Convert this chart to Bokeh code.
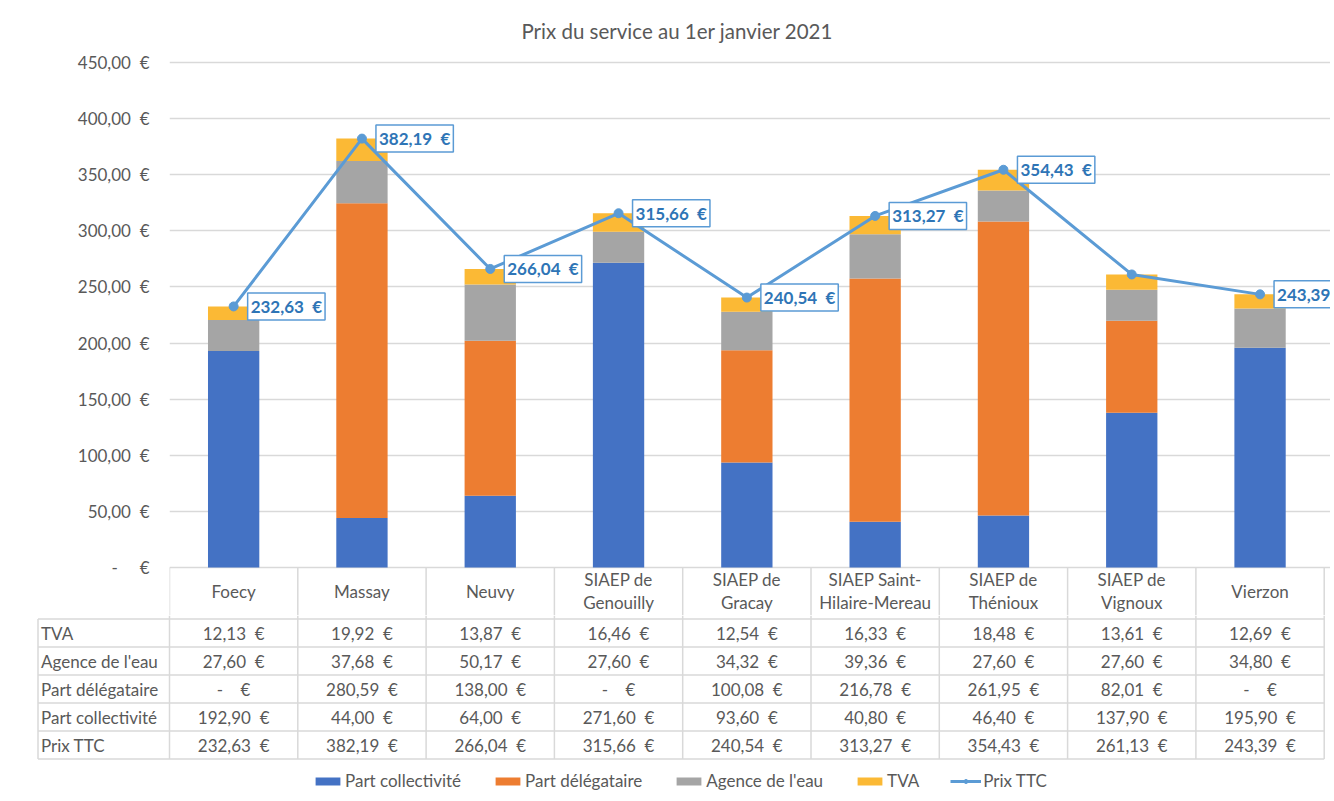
from bokeh.plotting import figure
from bokeh.models import ColumnDataSource, Range1d, FixedTicker, Legend, LegendItem, Title
from bokeh.embed import file_html
from bokeh.resources import INLINE
from bokeh.core.properties import value

# ---------------- data ----------------
categories = ["Foecy", "Massay", "Neuvy", "SIAEP de\nGenouilly", "SIAEP de\nGracay",
              "SIAEP Saint-\nHilaire-Mereau", "SIAEP de\nThénioux", "SIAEP de\nVignoux", "Vierzon"]
tva = [12.13, 19.92, 13.87, 16.46, 12.54, 16.33, 18.48, 13.61, 12.69]
agence = [27.60, 37.68, 50.17, 27.60, 34.32, 39.36, 27.60, 27.60, 34.80]
delegataire = [0.0, 280.59, 138.00, 0.0, 100.08, 216.78, 261.95, 82.01, 0.0]
collectivite = [192.90, 44.00, 64.00, 271.60, 93.60, 40.80, 46.40, 137.90, 195.90]
prix_ttc = [232.63, 382.19, 266.04, 315.66, 240.54, 313.27, 354.43, 261.13, 243.39]
label_shown = [True, True, True, True, True, True, True, False, True]
y_ticks = [0, 50, 100, 150, 200, 250, 300, 350, 400, 450]
row_names = ["TVA", "Agence de l'eau", "Part délégataire", "Part collectivité", "Prix TTC"]
series_names = ["Part collectivité", "Part délégataire", "Agence de l'eau", "TVA"]
title_text = "Prix du service au 1er janvier 2021"

# ---------------- style ----------------
FONT = "Lato"
GREY_TXT = "#595959"
GRID = "#D9D9D9"
COLORS = ["#4472C4", "#ED7D31", "#A5A5A5", "#FBB935"]
LINE_C = "#5B9BD5"
LABEL_C = "#2E75B6"
NB = "\u00a0"


def eur(v, dash_pad=4):
    if v == 0:
        return "-" + NB * dash_pad + "€"
    return ("%.2f" % v).replace(".", ",") + NB * 2 + "€"


W = 1330
LEFT = 169
PX_PER_X = 128.3
X_END = (W - LEFT) / PX_PER_X
PX_PER_Y = 505 / 450.0
TOP = 47
H_CHART = 615
Y0 = -(H_CHART + 1 - 568) / PX_PER_Y
Y1 = Y0 + (H_CHART - TOP) / PX_PER_Y

xc = [i + 0.5 for i in range(len(categories))]
bounds = list(range(len(categories) + 1))

# ---------------- chart figure ----------------
p = figure(width=W, height=H_CHART, x_range=Range1d(0, X_END), y_range=Range1d(Y0, Y1),
           output_backend="svg", toolbar_location=None,
           min_border_left=LEFT, min_border_right=0, min_border_top=TOP, min_border_bottom=0)
p.title = Title(text=title_text, align="left", offset=352, text_font=FONT,
                text_font_size="20.5px", text_font_style="normal", text_color=GREY_TXT, standoff=10)
p.outline_line_color = None
p.xaxis.visible = False
p.xgrid.visible = False
p.ygrid.ticker = FixedTicker(ticks=y_ticks)
p.ygrid.grid_line_color = GRID
p.ygrid.grid_line_width = 1.5
yax = p.yaxis[0]
yax.ticker = FixedTicker(ticks=y_ticks, minor_ticks=[])
yax.major_label_overrides = {t: eur(t, 5) for t in y_ticks}
yax.axis_line_color = None
yax.major_tick_line_color = None
yax.minor_tick_line_color = None
yax.major_tick_out = 0
yax.major_tick_in = 0
yax.major_label_standoff = 20
yax.major_label_text_font = FONT
yax.major_label_text_font_size = "17px"
yax.major_label_text_color = GREY_TXT

src = ColumnDataSource(dict(x=xc, collectivite=collectivite, delegataire=delegataire,
                            agence=agence, tva=tva, ttc=prix_ttc))
p.vbar_stack(["collectivite", "delegataire", "agence", "tva"], x="x", width=0.4,
             fill_color=COLORS, line_color=None, source=src)
p.line("x", "ttc", source=src, line_width=3, line_color=LINE_C)
p.scatter("x", "ttc", source=src, size=9, fill_color=LINE_C, line_color=LINE_C)

lsrc = ColumnDataSource(dict(
    x=[x for x, s in zip(xc, label_shown) if s],
    y=[v for v, s in zip(prix_ttc, label_shown) if s],
    t=[eur(v) for v, s in zip(prix_ttc, label_shown) if s]))
p.text("x", "y", text="t", source=lsrc, x_offset=14, text_align="left", text_baseline="middle",
       text_font=value(FONT), text_font_size="17px", text_font_style="bold", text_color=LABEL_C,
       background_fill_color="white", border_line_color=LINE_C, border_line_width=1.5, padding=3)

# header row of the data table (category names)
p.segment(x0=bounds, y0=[0] * len(bounds), x1=bounds, y1=[Y0] * len(bounds),
          line_color=GRID, line_width=1.5)
p.text(xc, [(Y0 + 1 / PX_PER_Y) / 2] * len(xc), text=categories, text_align="center",
       text_baseline="middle", text_font=value(FONT), text_font_size="17px",
       text_color=GREY_TXT, text_line_height=1.12)

# ---------------- table figure ----------------
ROW_H = 28.0
TOP_OFF = 3.5
H_TABLE = 177
XL = -LEFT / PX_PER_X
t = figure(width=W, height=H_TABLE, x_range=Range1d(XL, X_END),
           y_range=Range1d((H_TABLE - TOP_OFF) / ROW_H, -TOP_OFF / ROW_H),
           output_backend="svg", toolbar_location=None, min_border=0)
t.outline_line_color = None
t.axis.visible = False
t.grid.visible = False

row_left = (39.5 - 171) / PX_PER_X
nrows = len(row_names)
t.segment(x0=[row_left] * (nrows + 1), y0=list(range(nrows + 1)), x1=[9] * (nrows + 1),
          y1=list(range(nrows + 1)), line_color=GRID, line_width=1.5)
t.segment(x0=bounds, y0=[-TOP_OFF / ROW_H] * len(bounds), x1=bounds, y1=[nrows] * len(bounds),
          line_color=GRID, line_width=1.5)
t.segment(x0=[row_left], y0=[0], x1=[row_left], y1=[nrows], line_color=GRID, line_width=1.5)

t.text([row_left] * nrows, [i + 0.5 for i in range(nrows)], text=row_names, x_offset=3,
       text_align="left", text_baseline="middle", text_font=value(FONT), text_font_size="17px",
       text_color=GREY_TXT)
rows_vals = [tva, agence, delegataire, collectivite, prix_ttc]
cx, cy, ct = [], [], []
for r, vals in enumerate(rows_vals):
    for i, v in enumerate(vals):
        cx.append(xc[i])
        cy.append(r + 0.5)
        ct.append(eur(v))
t.text(cx, cy, text=ct, text_align="center", text_baseline="middle", text_font=value(FONT),
       text_font_size="17px", text_color=GREY_TXT)

# legend (proxy renderers placed outside the visible range)
far = X_END + 50
items = []
for name, c in zip(series_names, COLORS):
    r = t.vbar(x=[far], top=[1], width=0.4, fill_color=c, line_color=None)
    items.append(LegendItem(label=name, renderers=[r]))
rl = t.line(x=[far, far + 1], y=[1, 1], line_width=3, line_color=LINE_C)
rm = t.scatter(x=[far], y=[1], size=7, fill_color=LINE_C, line_color=LINE_C)
items.append(LegendItem(label="Prix TTC", renderers=[rl, rm]))
leg = Legend(items=items, orientation="horizontal", location=(312, 1), glyph_width=31,
             glyph_height=10, label_standoff=2, spacing=31, padding=0, margin=0,
             border_line_color=None, background_fill_alpha=0, label_text_font=FONT,
             label_text_font_size="17px", label_text_color=GREY_TXT)
t.add_layout(leg)

open("out.html", "w").write(file_html([p, t], INLINE, title="Prix du service"))
